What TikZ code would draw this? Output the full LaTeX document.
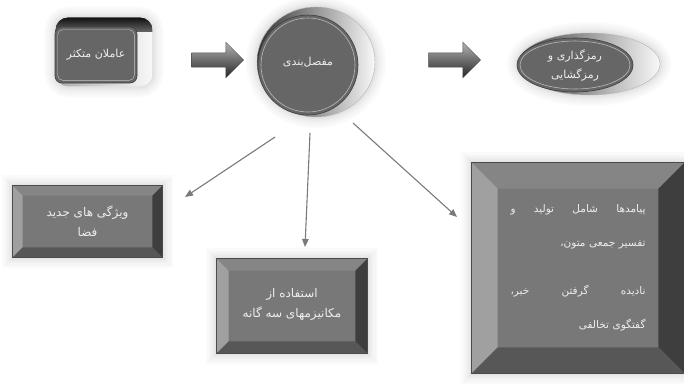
\documentclass[tikz,border=0pt]{standalone}
\usepackage{fontspec}
\usepackage{xcolor}
\usetikzlibrary{shapes.geometric}
\usetikzlibrary{shapes.arrows}
\usetikzlibrary{calc}
\usetikzlibrary{arrows.meta}
\usetikzlibrary{backgrounds}
\newfontfamily\farsi[Script=Arabic]{DejaVu Sans}
\TeXXeTstate=1
\definecolor{facegray}{HTML}{666666}
\definecolor{bvface}{HTML}{787878}
\definecolor{bvtopc}{HTML}{858585}
\definecolor{bvleftc}{HTML}{A0A0A0}
\definecolor{bvrightc}{HTML}{3E3E3E}
\definecolor{bvbotc}{HTML}{575757}
\definecolor{flowgray}{HTML}{7A7A7A}
\definecolor{txtgray}{HTML}{EEEEEE}

\begin{document}
\begin{tikzpicture}[x=1pt, y=-1pt]
        % ================= styles =================
        \tikzset{
            % soft grey halo around every shape
            halo/.style={preaction={draw=black, draw opacity=.018, line width=22pt},
                         preaction={draw=black, draw opacity=.018, line width=17pt},
                         preaction={draw=black, draw opacity=.02, line width=12pt},
                         preaction={draw=black, draw opacity=.025, line width=8pt},
                         preaction={draw=black, draw opacity=.03, line width=4pt}},
            % dark round faces (top row)
            face/.style={fill=facegray, draw=black!75, line width=.6pt, inner sep=0pt,
                         align=center, text=txtgray, font=\farsi\fontsize{11}{19}\selectfont},
            % bevelled boxes (bottom row)
            bevbox/.style={rectangle, fill=bvface, draw=black!70, line width=.6pt, inner sep=0pt,
                           align=center, text=txtgray, font=\farsi\fontsize{12}{20}\selectfont, halo},
            bvtop/.style={fill=bvtopc},
            bvleft/.style={fill=bvleftc},
            bvright/.style={fill=bvrightc},
            bvbottom/.style={fill=bvbotc},
            % fat 3d arrows between the top shapes
            blockarrow/.style={single arrow, minimum height=52pt, inner xsep=0pt, inner ysep=7pt,
                               single arrow head extend=10.5pt, draw=black!70, line width=.4pt,
                               top color=black!30, middle color=black!55, bottom color=black!85},
            % thin grey connectors
            flow/.style={draw=flowgray, line width=1.1pt, -{Triangle[length=8pt, width=6.5pt]}}
        }

        \useasboundingbox (0,0) rectangle (684,383);

        % ================= top row =================

        % first box: rounded face, dark lid and light side behind it
        \node[face, rectangle, rounded corners=7pt, minimum width=82pt, minimum height=56pt]
            (agents) at (96,55) {\beginR عاملان متکثر\endR};
        \draw[gray!45, rounded corners=5pt] ($(agents.north west)+(3,3)$) rectangle ($(agents.south east)+(-3,-3)$);
        \begin{scope}[on background layer]
            \path[halo, left color=gray!65, right color=gray!5, rounded corners=12pt]
                ($(agents.north west)+(1,-9)$) rectangle ($(agents.south east)+(15,3)$);
            \begin{scope}
                \clip[rounded corners=12pt] ($(agents.north west)+(1,-9)$) rectangle ($(agents.south east)+(15,3)$);
                \fill[top color=black!95, bottom color=black!60] ($(agents.north west)+(0,-10)$) rectangle ($(agents.north east)+(16,5)$);
            \end{scope}
        \end{scope}

        \node[blockarrow] (arrA) at (214,60) {};

        % round button in the middle
        \node[face, circle, minimum size=100pt] (artic) at (308,65) {\raisebox{7pt}{\beginR مفصل‌بندی\endR}};
        \draw[gray!55, line width=.6pt] (artic.center) circle (47pt);
        \begin{scope}[on background layer]
            \path[halo, left color=black!80, right color=gray!5, draw=gray!60]
                ($(artic.center)+(8,-3)$) ellipse [x radius=59pt, y radius=55pt];
        \end{scope}

        \node[blockarrow] (arrB) at (451,60) {};

        % flat ellipse on the right
        \node[face, ellipse, minimum width=116pt, minimum height=54pt]
            (coding) at (575,65) {\beginR رمزگذاری و\endR\\\beginR رمزگشایی\endR};
        \draw[gray!55, line width=.6pt] (coding.center) ellipse [x radius=55pt, y radius=24pt];
        \begin{scope}[on background layer]
            \path[halo, left color=black!75, right color=gray!5, draw=gray!60]
                ($(coding.center)+(14,-1)$) ellipse [x radius=71pt, y radius=31pt];
        \end{scope}

        % ================= bottom row =================
        \node[bevbox, minimum width=149pt, minimum height=71pt]
            (spaceft) at (87.5,221.5) {\beginR ویژگی های جدید\endR\\\beginR فضا\endR};

        \node[bevbox, minimum width=150pt, minimum height=94pt]
            (mech) at (292,306) {\raisebox{6pt}{\beginR استفاده از\endR}\\\raisebox{6pt}{\beginR مکانیزمهای سه گانه\endR}};

        \node[bevbox, minimum width=212pt, minimum height=210pt, text width=135pt, align=right,
              font=\farsi\fontsize{10.5}{34}\selectfont]
            (outcome) at (578,268)
            {\beginR پیامدها\hfill شامل\hfill تولید\hfill و\endR\\
             \beginR تفسیر جمعی متون،\endR\\[14pt]
             \beginR نادیده\hfill گرفتن\hfill خبر،\endR\\
             \beginR گفتگوی تخالفی\endR};

        % bevels on the three boxes
        \foreach \n/\b in {spaceft/10, mech/12, outcome/26}{
            \fill[bvtop] (\n.north west) -- (\n.north east) -- ($(\n.north east)+(-\b,\b)$) -- ($(\n.north west)+(\b,\b)$) -- cycle;
            \fill[bvleft] (\n.north west) -- ($(\n.north west)+(\b,\b)$) -- ($(\n.south west)+(\b,-\b)$) -- (\n.south west) -- cycle;
            \fill[bvright] (\n.north east) -- ($(\n.north east)+(-\b,\b)$) -- ($(\n.south east)+(-\b,-\b)$) -- (\n.south east) -- cycle;
            \fill[bvbottom] (\n.south west) -- ($(\n.south west)+(\b,-\b)$) -- ($(\n.south east)+(-\b,-\b)$) -- (\n.south east) -- cycle;
            \draw[black!70, line width=.6pt] (\n.north west) rectangle (\n.south east);
        }

        % ================= connectors =================
        \coordinate (s1) at (275,137);
        \coordinate (e1) at (185,197);
        \coordinate (s2) at (310,133);
        \coordinate (e2) at (305,247);
        \coordinate (s3) at (353,123);
        \coordinate (e3) at (457,217);
        \draw[flow] (s1) -- (e1);
        \draw[flow] (s2) -- (e2);
        \draw[flow] (s3) -- (e3);

    \end{tikzpicture}
\end{document}
